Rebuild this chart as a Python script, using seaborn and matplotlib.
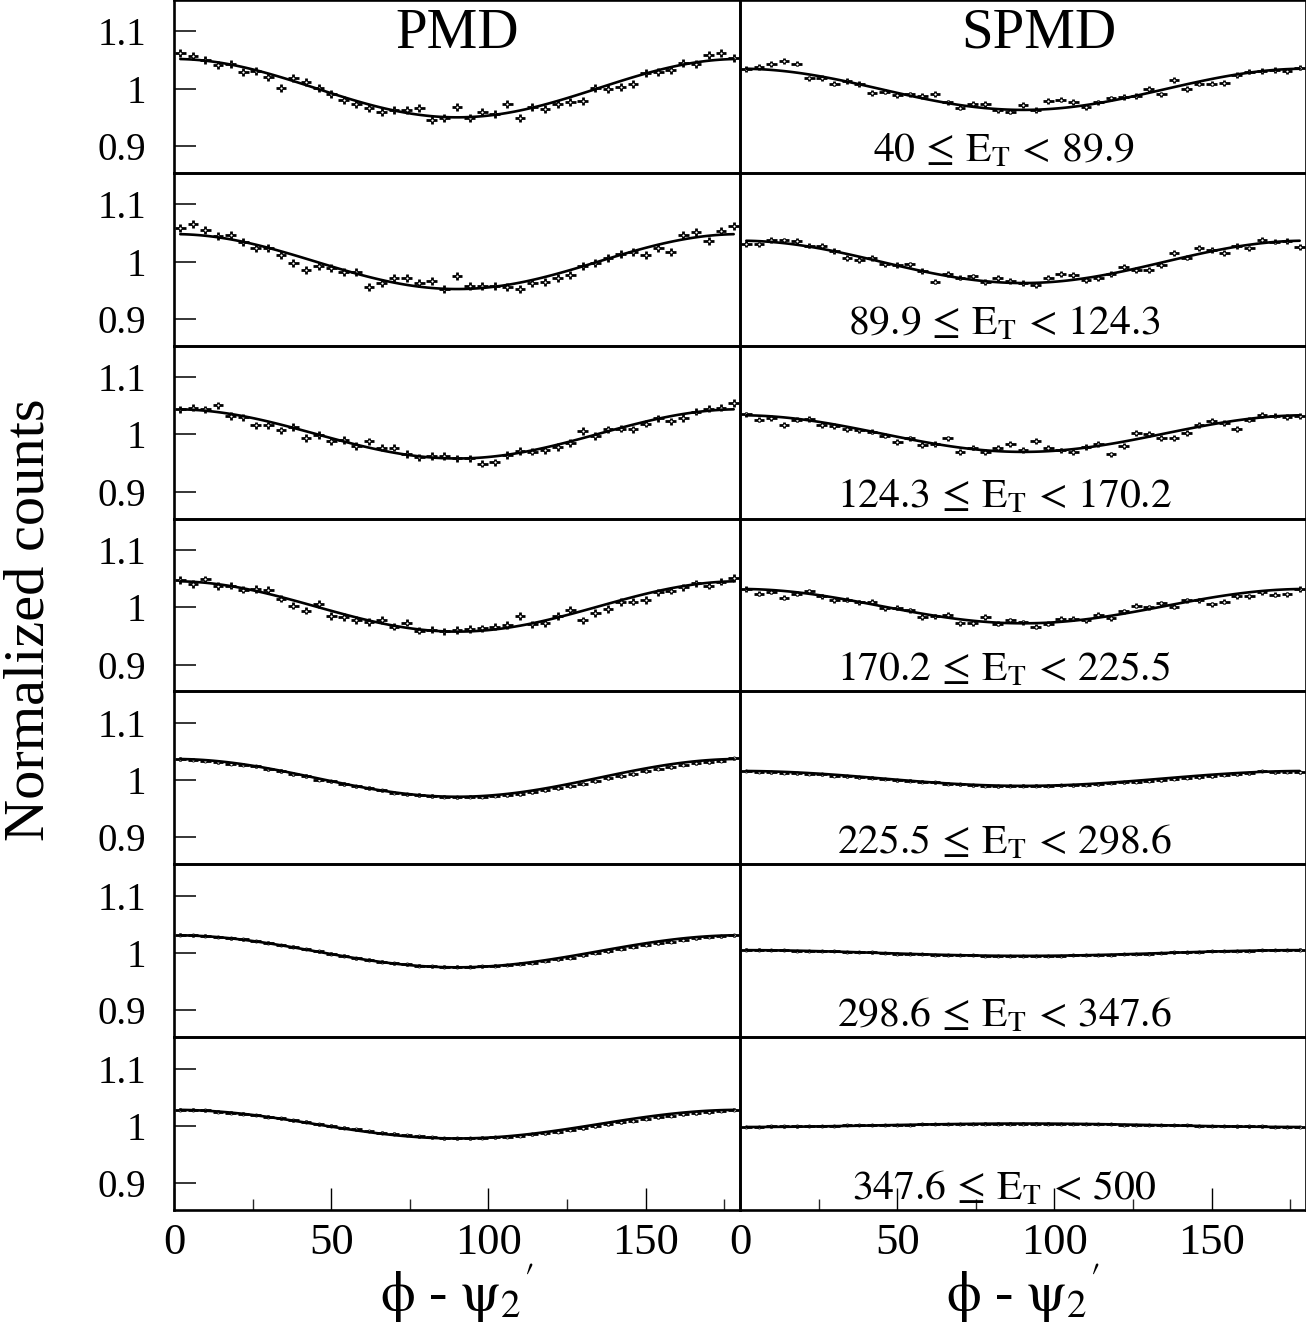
import numpy as np
import matplotlib
matplotlib.use("Agg")
import matplotlib.pyplot as plt
import matplotlib.transforms as mtransforms
import seaborn as sns

# ---------------- data ----------------
phi_centers = [2, 6, 10, 14, 18, 22, 26, 30, 34, 38, 42, 46, 50, 54, 58, 62, 66, 70, 74, 78, 82, 86, 90,
               94, 98, 102, 106, 110, 114, 118, 122, 126, 130, 134, 138, 142, 146, 150, 154, 158, 162,
               166, 170, 174, 178]

pmd_r1 = [1.063, 1.057, 1.050, 1.041, 1.043, 1.030, 1.031, 1.020, 1.002, 1.019, 1.012, 1.002, 0.990, 0.980,
          0.974, 0.966, 0.960, 0.962, 0.962, 0.967, 0.945, 0.949, 0.968, 0.949, 0.960, 0.955, 0.973, 0.949,
          0.968, 0.964, 0.973, 0.977, 0.978, 1.002, 0.999, 1.003, 1.008, 1.028, 1.029, 1.032, 1.045, 1.044,
          1.059, 1.063, 1.054]
pmd_r2 = [1.058, 1.066, 1.055, 1.045, 1.047, 1.034, 1.023, 1.024, 1.012, 0.997, 0.985, 0.992, 0.988, 0.981,
          0.981, 0.956, 0.963, 0.972, 0.972, 0.963, 0.966, 0.952, 0.974, 0.958, 0.958, 0.958, 0.955, 0.952,
          0.962, 0.965, 0.971, 0.977, 0.993, 0.997, 1.006, 1.013, 1.016, 1.012, 1.023, 1.016, 1.047, 1.051,
          1.036, 1.053, 1.063]
pmd_r3 = [1.044, 1.047, 1.044, 1.051, 1.032, 1.030, 1.016, 1.016, 1.007, 1.013, 0.994, 0.999, 0.988, 0.990,
          0.980, 0.988, 0.977, 0.977, 0.966, 0.960, 0.962, 0.962, 0.958, 0.958, 0.949, 0.951, 0.964, 0.971,
          0.970, 0.972, 0.978, 0.985, 1.006, 0.997, 1.009, 1.010, 1.009, 1.019, 1.028, 1.023, 1.029, 1.040,
          1.045, 1.047, 1.055]
pmd_r4 = [1.048, 1.041, 1.049, 1.037, 1.038, 1.031, 1.032, 1.030, 1.015, 1.003, 0.994, 1.006, 0.985, 0.983,
          0.978, 0.974, 0.978, 0.966, 0.973, 0.959, 0.961, 0.958, 0.960, 0.962, 0.963, 0.966, 0.969, 0.985,
          0.970, 0.972, 0.985, 0.995, 0.977, 0.990, 0.997, 1.009, 1.010, 1.013, 1.026, 1.029, 1.035, 1.042,
          1.038, 1.045, 1.051]
pmd_r5 = [1.037, 1.036, 1.034, 1.032, 1.029, 1.027, 1.024, 1.019, 1.016,
          1.011, 1.007, 1.001, 0.998, 0.993, 0.989, 0.986, 0.982, 0.978,
          0.975, 0.974, 0.972, 0.971, 0.970, 0.971, 0.971, 0.973, 0.974,
          0.976, 0.979, 0.982, 0.986, 0.990, 0.994, 0.998, 1.003, 1.007,
          1.011, 1.016, 1.020, 1.023, 1.027, 1.030, 1.032, 1.034, 1.038]
pmd_r6 = [1.032, 1.031, 1.030, 1.028, 1.026, 1.024, 1.021, 1.018, 1.014,
          1.011, 1.007, 1.003, 0.999, 0.995, 0.991, 0.988, 0.985, 0.982,
          0.980, 0.978, 0.977, 0.976, 0.976, 0.976, 0.977, 0.978, 0.979,
          0.981, 0.983, 0.986, 0.989, 0.992, 0.996, 1.000, 1.003, 1.007,
          1.011, 1.014, 1.017, 1.020, 1.023, 1.026, 1.028, 1.029, 1.031]
pmd_r7 = [1.028, 1.028, 1.027, 1.025, 1.023, 1.021, 1.019, 1.016, 1.013,
          1.010, 1.007, 1.003, 1.000, 0.997, 0.994, 0.991, 0.988, 0.986,
          0.984, 0.982, 0.980, 0.978, 0.978, 0.978, 0.979, 0.980, 0.981,
          0.983, 0.985, 0.987, 0.990, 0.993, 0.996, 0.999, 1.003, 1.006,
          1.009, 1.012, 1.015, 1.018, 1.020, 1.022, 1.024, 1.026, 1.028]

spmd_r1 = [1.034, 1.038, 1.043, 1.048, 1.044, 1.018, 1.019, 1.009, 1.013, 1.008, 0.993, 0.995, 0.989, 0.990,
           0.987, 0.991, 0.976, 0.967, 0.974, 0.973, 0.962, 0.960, 0.971, 0.963, 0.978, 0.981, 0.977, 0.968,
           0.976, 0.983, 0.985, 0.987, 0.999, 0.990, 1.015, 0.999, 1.009, 1.009, 1.010, 1.024, 1.030, 1.031,
           1.033, 1.031, 1.037]
spmd_r2 = [1.031, 1.030, 1.038, 1.037, 1.036, 1.028, 1.028, 1.019, 1.006, 1.003, 1.006, 0.995, 0.994, 0.995,
           0.984, 0.965, 0.978, 0.972, 0.974, 0.964, 0.971, 0.966, 0.962, 0.959, 0.972, 0.978, 0.976, 0.968,
           0.971, 0.978, 0.991, 0.985, 0.985, 0.994, 1.015, 1.007, 1.024, 1.020, 1.015, 1.027, 1.023, 1.038,
           1.035, 1.036, 1.026]
spmd_r3 = [1.035, 1.026, 1.029, 1.017, 1.026, 1.027, 1.016, 1.015, 1.009, 1.007, 1.005, 0.998, 0.987, 0.993,
           0.981, 0.983, 0.993, 0.969, 0.977, 0.969, 0.976, 0.983, 0.973, 0.988, 0.977, 0.972, 0.969, 0.978,
           0.983, 0.965, 0.980, 1.002, 1.001, 0.994, 0.994, 1.003, 1.016, 1.024, 1.020, 1.009, 1.026, 1.034,
           1.033, 1.030, 1.032]
spmd_r4 = [1.032, 1.024, 1.027, 1.017, 1.024, 1.028, 1.019, 1.012, 1.013, 1.009, 1.010, 0.998, 0.999, 0.995,
           0.983, 0.984, 0.987, 0.972, 0.972, 0.983, 0.971, 0.977, 0.974, 0.966, 0.971, 0.980, 0.980, 0.977,
           0.987, 0.981, 0.993, 1.003, 1.000, 1.007, 1.001, 1.012, 1.012, 1.005, 1.010, 1.019, 1.019, 1.026,
           1.022, 1.023, 1.032]
spmd_r5 = [1.016, 1.015, 1.014, 1.013, 1.012, 1.011, 1.010, 1.008, 1.007,
           1.005, 1.004, 1.002, 1.000, 0.999, 0.997, 0.996, 0.994, 0.993,
           0.991, 0.990, 0.989, 0.990, 0.990, 0.990, 0.990, 0.991, 0.991,
           0.992, 0.993, 0.995, 0.996, 0.997, 0.999, 1.000, 1.002, 1.004,
           1.005, 1.007, 1.009, 1.010, 1.012, 1.016, 1.014, 1.015, 1.014]
spmd_r6 = [1.006, 1.006, 1.005, 1.005, 1.004, 1.004, 1.003, 1.003, 1.002,
           1.002, 1.001, 1.000, 0.999, 0.999, 0.998, 0.997, 0.997, 0.996,
           0.996, 0.995, 0.995, 0.995, 0.995, 0.995, 0.995, 0.995, 0.996,
           0.996, 0.997, 0.997, 0.998, 0.998, 0.999, 1.000, 1.001, 1.001,
           1.002, 1.003, 1.003, 1.004, 1.004, 1.005, 1.005, 1.005, 1.006]
spmd_r7 = [0.998, 0.998, 0.999, 0.999, 0.999, 1.000, 1.000, 1.000, 1.001,
           1.001, 1.001, 1.002, 1.002, 1.002, 1.003, 1.003, 1.003, 1.003,
           1.003, 1.004, 1.004, 1.004, 1.004, 1.004, 1.004, 1.003, 1.003,
           1.003, 1.003, 1.003, 1.002, 1.002, 1.002, 1.001, 1.001, 1.001,
           1.000, 1.000, 1.000, 0.999, 0.999, 0.999, 0.998, 0.998, 0.998]

# vertical error bar half-sizes per row
pmd_yerr = [0.007, 0.007, 0.0065, 0.0065, 0.003, 0.0025, 0.0025]
spmd_yerr = [0.005, 0.005, 0.005, 0.0045, 0.0025, 0.002, 0.002]

# fit parameters: offset + amp * cos(2 phi)
pmd_fit_offset = [1.001, 1.000, 1.001, 1.0015, 1.004, 1.003, 1.003]
pmd_fit_amp = [0.051, 0.048, 0.043, 0.044, 0.033, 0.028, 0.025]
spmd_fit_offset = [0.999, 0.9995, 1.0015, 1.002, 1.003, 1.000, 1.001]
spmd_fit_amp = [0.036, 0.037, 0.032, 0.030, 0.013, 0.005, -0.003]

et_labels = [r"$\mathrm{40\,\leq\,E_{T}\,<\,89.9}$",
             r"$\mathrm{89.9\,\leq\,E_{T}\,<\,124.3}$",
             r"$\mathrm{124.3\,\leq\,E_{T}\,<\,170.2}$",
             r"$\mathrm{170.2\,\leq\,E_{T}\,<\,225.5}$",
             r"$\mathrm{225.5\,\leq\,E_{T}\,<\,298.6}$",
             r"$\mathrm{298.6\,\leq\,E_{T}\,<\,347.6}$",
             r"$\mathrm{347.6\,\leq\,E_{T}\,<\,500}$"]
col_titles = ["PMD", "SPMD"]
x_title = r"$\mathrm{\phi}$ - ${\mathrm{\psi}_{2}}^{\prime}$"
y_title = "Normalized counts"
ytick_vals = [0.9, 1.0, 1.1]
ytick_labels = ["0.9", "1", "1.1"]
xtick_vals = [0, 50, 100, 150]
xtick_labels = ["0", "50", "100", "150"]
xminor_vals = [25, 75, 125, 175]

pmd_rows = [pmd_r1, pmd_r2, pmd_r3, pmd_r4, pmd_r5, pmd_r6, pmd_r7]
spmd_rows = [spmd_r1, spmd_r2, spmd_r3, spmd_r4, spmd_r5, spmd_r6, spmd_r7]

# ---------------- style ----------------
sns.set_theme(style="white")
plt.rcParams["font.family"] = ["Liberation Serif", "DejaVu Serif"]
plt.rcParams["mathtext.fontset"] = "stix"

W, H = 1306, 1331
fig = plt.figure(figsize=(W / 100, H / 100), dpi=100)
fig.patch.set_facecolor("white")

row_h = 1210 / 7
col_x0 = [174, 740]
col_w = 566
phi = np.array(phi_centers, dtype=float)
phi_fine = np.linspace(phi_centers[0], phi_centers[-1], 120)

for r in range(7):
    for c in range(2):
        ax = fig.add_axes([col_x0[c] / W, 1 - (r + 1) * row_h / H, col_w / W, row_h / H])
        ax.set_facecolor("none")
        vals = np.array(pmd_rows[r] if c == 0 else spmd_rows[r])
        yerr = pmd_yerr[r] if c == 0 else spmd_yerr[r]
        off = pmd_fit_offset[r] if c == 0 else spmd_fit_offset[r]
        amp = pmd_fit_amp[r] if c == 0 else spmd_fit_amp[r]

        ax.errorbar(phi, vals, xerr=1.7, yerr=yerr, fmt="none", ecolor="black",
                    elinewidth=2.0, capsize=0, zorder=3)
        sns.scatterplot(x=phi, y=vals, ax=ax, marker="o", s=5, facecolor="white",
                        edgecolor="black", linewidth=0.6, zorder=4)
        fit = off + amp * np.cos(np.deg2rad(2 * phi_fine))
        sns.lineplot(x=phi_fine, y=fit, ax=ax, color="black", linewidth=1.9, zorder=5)

        ax.set_xlim(0, 180)
        ax.set_ylim(0.853, 1.155)
        ax.set_xlabel("")
        ax.set_ylabel("")
        for s in ax.spines.values():
            s.set_visible(True)
            s.set_color("black")
            s.set_linewidth(1.9)

        ax.set_yticks(ytick_vals)
        if c == 0:
            ax.set_yticklabels(ytick_labels)
            ax.tick_params(axis="y", which="major", direction="in", left=True, right=False,
                           length=16, width=1.1, labelsize=28, pad=20, colors="black")
        else:
            ax.tick_params(axis="y", which="both", left=False, right=False, labelleft=False)

        ax.set_xticks(xtick_vals)
        ax.set_xticks(xminor_vals, minor=True)
        if r == 6:
            ax.set_xticklabels(xtick_labels)
            ax.tick_params(axis="x", which="major", direction="in", bottom=True, top=False,
                           length=16, width=1.0, labelsize=32, pad=9, colors="black")
            ax.tick_params(axis="x", which="minor", direction="in", bottom=True, top=False,
                           length=8, width=1.0)
        else:
            ax.tick_params(axis="x", which="both", bottom=False, top=False, labelbottom=False)

        trans = mtransforms.blended_transform_factory(ax.transData, ax.transAxes)
        if r == 0:
            ax.text(90 if c == 0 else 95, 0.723, col_titles[c], transform=trans,
                    ha="center", va="baseline", fontsize=41, color="black", zorder=10)
        if c == 1:
            ax.text(84, 0.064, et_labels[r], transform=trans, ha="center", va="baseline",
                    fontsize=30, color="black", zorder=10, clip_on=False)
        ax.grid(False)

fig.text(30 / W, 1 - 620 / H, y_title, rotation=90, ha="center", va="center",
         fontsize=42, color="black")
for cx in [457, 1023]:
    fig.text(cx / W, 1 - 1293 / H, x_title, ha="center", va="center", fontsize=40, color="black")

fig.savefig("out.png", dpi=100, facecolor="white")
